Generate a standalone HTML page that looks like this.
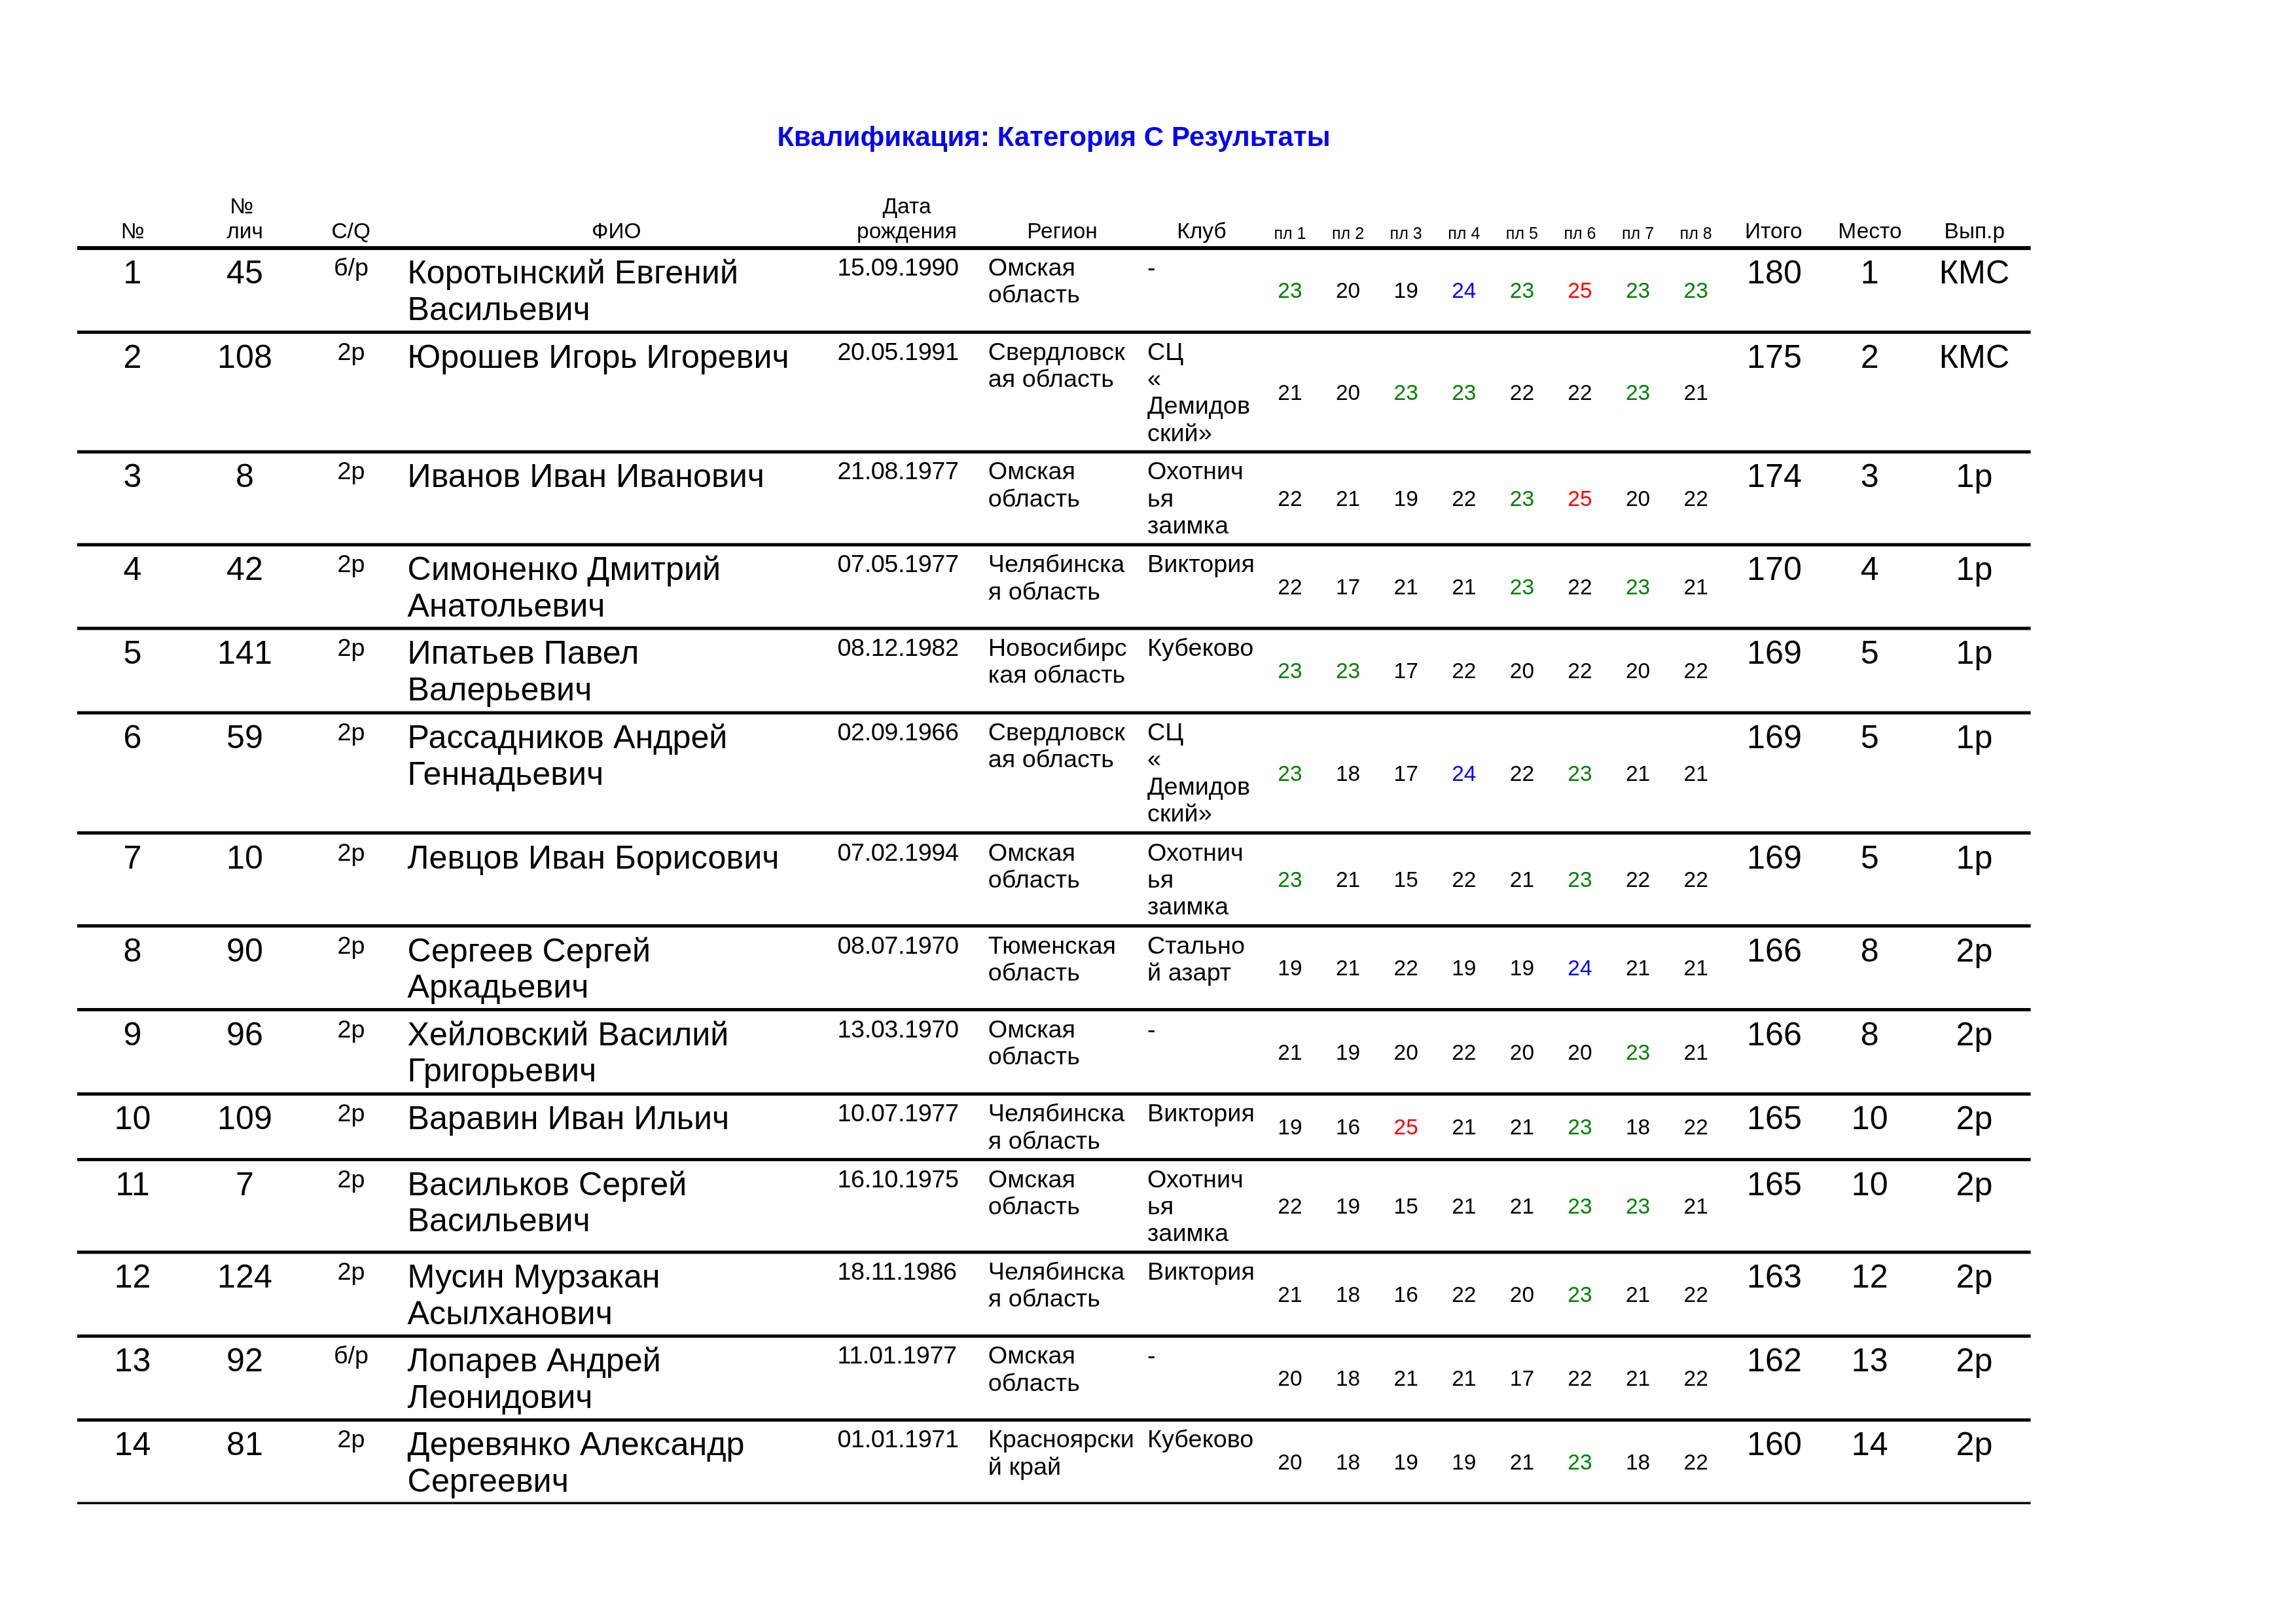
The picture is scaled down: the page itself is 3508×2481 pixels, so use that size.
<!DOCTYPE html>
<html lang="ru"><head><meta charset="utf-8"><title>Квалификация: Категория С Результаты</title>
<style>
html,body{margin:0;padding:0;background:#fff;}
body{width:3508px;height:2481px;overflow:hidden;}
svg{display:block;will-change:transform;}
svg text{font-family:"Liberation Sans",Arial,sans-serif;}
</style></head><body>
<svg width="3508" height="2481" viewBox="0 0 3508 2481">
<rect width="3508" height="2481" fill="#fff"/>
<g fill="#000">
<rect x="118.0" y="376.00" width="2984.6" height="6"/>
<rect x="118.0" y="505.00" width="2984.6" height="5"/>
<rect x="118.0" y="687.80" width="2984.6" height="5"/>
<rect x="118.0" y="829.70" width="2984.6" height="5"/>
<rect x="118.0" y="957.50" width="2984.6" height="5"/>
<rect x="118.0" y="1086.50" width="2984.6" height="5"/>
<rect x="118.0" y="1270.00" width="2984.6" height="5"/>
<rect x="118.0" y="1412.00" width="2984.6" height="5"/>
<rect x="118.0" y="1540.00" width="2984.6" height="5"/>
<rect x="118.0" y="1668.80" width="2984.6" height="5"/>
<rect x="118.0" y="1769.00" width="2984.6" height="5"/>
<rect x="118.0" y="1910.50" width="2984.6" height="5"/>
<rect x="118.0" y="2038.70" width="2984.6" height="5"/>
<rect x="118.0" y="2166.80" width="2984.6" height="5"/>
<rect x="118.0" y="2294.55" width="2984.6" height="3.5"/>
</g>
<text x="1610.0" y="222.9" font-size="42.10" text-anchor="middle" fill="#0000ff" font-weight="bold">Квалификация: Категория С Результаты</text>
<text x="202.6" y="363.7" font-size="33.50" text-anchor="middle">№</text>
<text x="369.2" y="326.0" font-size="33.50" text-anchor="middle">№</text>
<text x="374.0" y="363.7" font-size="33.50" text-anchor="middle">лич</text>
<text x="536.2" y="363.7" font-size="33.50" text-anchor="middle">C/Q</text>
<text x="941.8" y="363.7" font-size="33.50" text-anchor="middle">ФИО</text>
<text x="1385.5" y="326.0" font-size="33.50" text-anchor="middle">Дата</text>
<text x="1385.5" y="363.7" font-size="33.50" text-anchor="middle">рождения</text>
<text x="1623.0" y="363.7" font-size="33.50" text-anchor="middle">Регион</text>
<text x="1836.0" y="363.7" font-size="33.50" text-anchor="middle">Клуб</text>
<text x="1971.0" y="364.8" font-size="25.10" text-anchor="middle">пл 1</text>
<text x="2059.6" y="364.8" font-size="25.10" text-anchor="middle">пл 2</text>
<text x="2148.2" y="364.8" font-size="25.10" text-anchor="middle">пл 3</text>
<text x="2236.8" y="364.8" font-size="25.10" text-anchor="middle">пл 4</text>
<text x="2325.4" y="364.8" font-size="25.10" text-anchor="middle">пл 5</text>
<text x="2414.0" y="364.8" font-size="25.10" text-anchor="middle">пл 6</text>
<text x="2502.6" y="364.8" font-size="25.10" text-anchor="middle">пл 7</text>
<text x="2591.2" y="364.8" font-size="25.10" text-anchor="middle">пл 8</text>
<text x="2709.8" y="363.7" font-size="33.50" text-anchor="middle">Итого</text>
<text x="2857.0" y="363.7" font-size="33.50" text-anchor="middle">Место</text>
<text x="3016.8" y="363.7" font-size="33.50" text-anchor="middle">Вып.р</text>
<text x="202.6" y="433.0" font-size="50.25" text-anchor="middle">1</text>
<text x="374.0" y="433.0" font-size="50.25" text-anchor="middle">45</text>
<text x="536.5" y="421.0" font-size="37.85" text-anchor="middle">б/р</text>
<text x="622.6" y="433.0" font-size="50.25">Коротынский Евгений</text>
<text x="622.6" y="488.5" font-size="50.25">Васильевич</text>
<text x="1279.4" y="421.0" font-size="37.85" letter-spacing="-0.42">15.09.1990</text>
<text x="1509.8" y="421.0" font-size="37.85">Омская</text>
<text x="1509.8" y="462.4" font-size="37.85">область</text>
<text x="1753.0" y="421.0" font-size="37.85">-</text>
<text x="1971.0" y="455.1" font-size="33.50" text-anchor="middle" fill="#008000">23</text>
<text x="2059.6" y="455.1" font-size="33.50" text-anchor="middle">20</text>
<text x="2148.2" y="455.1" font-size="33.50" text-anchor="middle">19</text>
<text x="2236.8" y="455.1" font-size="33.50" text-anchor="middle" fill="#0000ff">24</text>
<text x="2325.4" y="455.1" font-size="33.50" text-anchor="middle" fill="#008000">23</text>
<text x="2414.0" y="455.1" font-size="33.50" text-anchor="middle" fill="#ff0000">25</text>
<text x="2502.6" y="455.1" font-size="33.50" text-anchor="middle" fill="#008000">23</text>
<text x="2591.2" y="455.1" font-size="33.50" text-anchor="middle" fill="#008000">23</text>
<text x="2711.0" y="433.0" font-size="50.25" text-anchor="middle">180</text>
<text x="2856.7" y="433.0" font-size="50.25" text-anchor="middle">1</text>
<text x="3016.5" y="433.0" font-size="50.25" text-anchor="middle">КМС</text>
<text x="202.6" y="561.5" font-size="50.25" text-anchor="middle">2</text>
<text x="374.0" y="561.5" font-size="50.25" text-anchor="middle">108</text>
<text x="536.5" y="549.5" font-size="37.85" text-anchor="middle">2р</text>
<text x="622.6" y="561.5" font-size="50.25">Юрошев Игорь Игоревич</text>
<text x="1279.4" y="549.5" font-size="37.85" letter-spacing="-0.42">20.05.1991</text>
<text x="1509.8" y="549.5" font-size="37.85">Свердловск</text>
<text x="1509.8" y="590.9" font-size="37.85">ая область</text>
<text x="1753.0" y="549.5" font-size="37.85">СЦ</text>
<text x="1753.0" y="590.9" font-size="37.85">«</text>
<text x="1753.0" y="632.3" font-size="37.85">Демидов</text>
<text x="1753.0" y="673.7" font-size="37.85">ский»</text>
<text x="1971.0" y="610.8" font-size="33.50" text-anchor="middle">21</text>
<text x="2059.6" y="610.8" font-size="33.50" text-anchor="middle">20</text>
<text x="2148.2" y="610.8" font-size="33.50" text-anchor="middle" fill="#008000">23</text>
<text x="2236.8" y="610.8" font-size="33.50" text-anchor="middle" fill="#008000">23</text>
<text x="2325.4" y="610.8" font-size="33.50" text-anchor="middle">22</text>
<text x="2414.0" y="610.8" font-size="33.50" text-anchor="middle">22</text>
<text x="2502.6" y="610.8" font-size="33.50" text-anchor="middle" fill="#008000">23</text>
<text x="2591.2" y="610.8" font-size="33.50" text-anchor="middle">21</text>
<text x="2711.0" y="561.5" font-size="50.25" text-anchor="middle">175</text>
<text x="2856.7" y="561.5" font-size="50.25" text-anchor="middle">2</text>
<text x="3016.5" y="561.5" font-size="50.25" text-anchor="middle">КМС</text>
<text x="202.6" y="744.3" font-size="50.25" text-anchor="middle">3</text>
<text x="374.0" y="744.3" font-size="50.25" text-anchor="middle">8</text>
<text x="536.5" y="732.3" font-size="37.85" text-anchor="middle">2р</text>
<text x="622.6" y="744.3" font-size="50.25">Иванов Иван Иванович</text>
<text x="1279.4" y="732.3" font-size="37.85" letter-spacing="-0.42">21.08.1977</text>
<text x="1509.8" y="732.3" font-size="37.85">Омская</text>
<text x="1509.8" y="773.7" font-size="37.85">область</text>
<text x="1753.0" y="732.3" font-size="37.85">Охотнич</text>
<text x="1753.0" y="773.7" font-size="37.85">ья</text>
<text x="1753.0" y="815.1" font-size="37.85">заимка</text>
<text x="1971.0" y="773.1" font-size="33.50" text-anchor="middle">22</text>
<text x="2059.6" y="773.1" font-size="33.50" text-anchor="middle">21</text>
<text x="2148.2" y="773.1" font-size="33.50" text-anchor="middle">19</text>
<text x="2236.8" y="773.1" font-size="33.50" text-anchor="middle">22</text>
<text x="2325.4" y="773.1" font-size="33.50" text-anchor="middle" fill="#008000">23</text>
<text x="2414.0" y="773.1" font-size="33.50" text-anchor="middle" fill="#ff0000">25</text>
<text x="2502.6" y="773.1" font-size="33.50" text-anchor="middle">20</text>
<text x="2591.2" y="773.1" font-size="33.50" text-anchor="middle">22</text>
<text x="2711.0" y="744.3" font-size="50.25" text-anchor="middle">174</text>
<text x="2856.7" y="744.3" font-size="50.25" text-anchor="middle">3</text>
<text x="3016.5" y="744.3" font-size="50.25" text-anchor="middle">1р</text>
<text x="202.6" y="886.2" font-size="50.25" text-anchor="middle">4</text>
<text x="374.0" y="886.2" font-size="50.25" text-anchor="middle">42</text>
<text x="536.5" y="874.2" font-size="37.85" text-anchor="middle">2р</text>
<text x="622.6" y="886.2" font-size="50.25">Симоненко Дмитрий</text>
<text x="622.6" y="941.7" font-size="50.25">Анатольевич</text>
<text x="1279.4" y="874.2" font-size="37.85" letter-spacing="-0.42">07.05.1977</text>
<text x="1509.8" y="874.2" font-size="37.85">Челябинска</text>
<text x="1509.8" y="915.6" font-size="37.85">я область</text>
<text x="1753.0" y="874.2" font-size="37.85">Виктория</text>
<text x="1971.0" y="908.0" font-size="33.50" text-anchor="middle">22</text>
<text x="2059.6" y="908.0" font-size="33.50" text-anchor="middle">17</text>
<text x="2148.2" y="908.0" font-size="33.50" text-anchor="middle">21</text>
<text x="2236.8" y="908.0" font-size="33.50" text-anchor="middle">21</text>
<text x="2325.4" y="908.0" font-size="33.50" text-anchor="middle" fill="#008000">23</text>
<text x="2414.0" y="908.0" font-size="33.50" text-anchor="middle">22</text>
<text x="2502.6" y="908.0" font-size="33.50" text-anchor="middle" fill="#008000">23</text>
<text x="2591.2" y="908.0" font-size="33.50" text-anchor="middle">21</text>
<text x="2711.0" y="886.2" font-size="50.25" text-anchor="middle">170</text>
<text x="2856.7" y="886.2" font-size="50.25" text-anchor="middle">4</text>
<text x="3016.5" y="886.2" font-size="50.25" text-anchor="middle">1р</text>
<text x="202.6" y="1014.0" font-size="50.25" text-anchor="middle">5</text>
<text x="374.0" y="1014.0" font-size="50.25" text-anchor="middle">141</text>
<text x="536.5" y="1002.0" font-size="37.85" text-anchor="middle">2р</text>
<text x="622.6" y="1014.0" font-size="50.25">Ипатьев Павел</text>
<text x="622.6" y="1069.5" font-size="50.25">Валерьевич</text>
<text x="1279.4" y="1002.0" font-size="37.85" letter-spacing="-0.42">08.12.1982</text>
<text x="1509.8" y="1002.0" font-size="37.85">Новосибирс</text>
<text x="1509.8" y="1043.4" font-size="37.85">кая область</text>
<text x="1753.0" y="1002.0" font-size="37.85">Кубеково</text>
<text x="1971.0" y="1036.4" font-size="33.50" text-anchor="middle" fill="#008000">23</text>
<text x="2059.6" y="1036.4" font-size="33.50" text-anchor="middle" fill="#008000">23</text>
<text x="2148.2" y="1036.4" font-size="33.50" text-anchor="middle">17</text>
<text x="2236.8" y="1036.4" font-size="33.50" text-anchor="middle">22</text>
<text x="2325.4" y="1036.4" font-size="33.50" text-anchor="middle">20</text>
<text x="2414.0" y="1036.4" font-size="33.50" text-anchor="middle">22</text>
<text x="2502.6" y="1036.4" font-size="33.50" text-anchor="middle">20</text>
<text x="2591.2" y="1036.4" font-size="33.50" text-anchor="middle">22</text>
<text x="2711.0" y="1014.0" font-size="50.25" text-anchor="middle">169</text>
<text x="2856.7" y="1014.0" font-size="50.25" text-anchor="middle">5</text>
<text x="3016.5" y="1014.0" font-size="50.25" text-anchor="middle">1р</text>
<text x="202.6" y="1143.0" font-size="50.25" text-anchor="middle">6</text>
<text x="374.0" y="1143.0" font-size="50.25" text-anchor="middle">59</text>
<text x="536.5" y="1131.0" font-size="37.85" text-anchor="middle">2р</text>
<text x="622.6" y="1143.0" font-size="50.25">Рассадников Андрей</text>
<text x="622.6" y="1198.5" font-size="50.25">Геннадьевич</text>
<text x="1279.4" y="1131.0" font-size="37.85" letter-spacing="-0.42">02.09.1966</text>
<text x="1509.8" y="1131.0" font-size="37.85">Свердловск</text>
<text x="1509.8" y="1172.4" font-size="37.85">ая область</text>
<text x="1753.0" y="1131.0" font-size="37.85">СЦ</text>
<text x="1753.0" y="1172.4" font-size="37.85">«</text>
<text x="1753.0" y="1213.8" font-size="37.85">Демидов</text>
<text x="1753.0" y="1255.2" font-size="37.85">ский»</text>
<text x="1971.0" y="1192.7" font-size="33.50" text-anchor="middle" fill="#008000">23</text>
<text x="2059.6" y="1192.7" font-size="33.50" text-anchor="middle">18</text>
<text x="2148.2" y="1192.7" font-size="33.50" text-anchor="middle">17</text>
<text x="2236.8" y="1192.7" font-size="33.50" text-anchor="middle" fill="#0000ff">24</text>
<text x="2325.4" y="1192.7" font-size="33.50" text-anchor="middle">22</text>
<text x="2414.0" y="1192.7" font-size="33.50" text-anchor="middle" fill="#008000">23</text>
<text x="2502.6" y="1192.7" font-size="33.50" text-anchor="middle">21</text>
<text x="2591.2" y="1192.7" font-size="33.50" text-anchor="middle">21</text>
<text x="2711.0" y="1143.0" font-size="50.25" text-anchor="middle">169</text>
<text x="2856.7" y="1143.0" font-size="50.25" text-anchor="middle">5</text>
<text x="3016.5" y="1143.0" font-size="50.25" text-anchor="middle">1р</text>
<text x="202.6" y="1326.5" font-size="50.25" text-anchor="middle">7</text>
<text x="374.0" y="1326.5" font-size="50.25" text-anchor="middle">10</text>
<text x="536.5" y="1314.5" font-size="37.85" text-anchor="middle">2р</text>
<text x="622.6" y="1326.5" font-size="50.25">Левцов Иван Борисович</text>
<text x="1279.4" y="1314.5" font-size="37.85" letter-spacing="-0.42">07.02.1994</text>
<text x="1509.8" y="1314.5" font-size="37.85">Омская</text>
<text x="1509.8" y="1355.9" font-size="37.85">область</text>
<text x="1753.0" y="1314.5" font-size="37.85">Охотнич</text>
<text x="1753.0" y="1355.9" font-size="37.85">ья</text>
<text x="1753.0" y="1397.3" font-size="37.85">заимка</text>
<text x="1971.0" y="1355.4" font-size="33.50" text-anchor="middle" fill="#008000">23</text>
<text x="2059.6" y="1355.4" font-size="33.50" text-anchor="middle">21</text>
<text x="2148.2" y="1355.4" font-size="33.50" text-anchor="middle">15</text>
<text x="2236.8" y="1355.4" font-size="33.50" text-anchor="middle">22</text>
<text x="2325.4" y="1355.4" font-size="33.50" text-anchor="middle">21</text>
<text x="2414.0" y="1355.4" font-size="33.50" text-anchor="middle" fill="#008000">23</text>
<text x="2502.6" y="1355.4" font-size="33.50" text-anchor="middle">22</text>
<text x="2591.2" y="1355.4" font-size="33.50" text-anchor="middle">22</text>
<text x="2711.0" y="1326.5" font-size="50.25" text-anchor="middle">169</text>
<text x="2856.7" y="1326.5" font-size="50.25" text-anchor="middle">5</text>
<text x="3016.5" y="1326.5" font-size="50.25" text-anchor="middle">1р</text>
<text x="202.6" y="1468.5" font-size="50.25" text-anchor="middle">8</text>
<text x="374.0" y="1468.5" font-size="50.25" text-anchor="middle">90</text>
<text x="536.5" y="1456.5" font-size="37.85" text-anchor="middle">2р</text>
<text x="622.6" y="1468.5" font-size="50.25">Сергеев Сергей</text>
<text x="622.6" y="1524.0" font-size="50.25">Аркадьевич</text>
<text x="1279.4" y="1456.5" font-size="37.85" letter-spacing="-0.42">08.07.1970</text>
<text x="1509.8" y="1456.5" font-size="37.85">Тюменская</text>
<text x="1509.8" y="1497.9" font-size="37.85">область</text>
<text x="1753.0" y="1456.5" font-size="37.85">Стально</text>
<text x="1753.0" y="1497.9" font-size="37.85">й азарт</text>
<text x="1971.0" y="1490.4" font-size="33.50" text-anchor="middle">19</text>
<text x="2059.6" y="1490.4" font-size="33.50" text-anchor="middle">21</text>
<text x="2148.2" y="1490.4" font-size="33.50" text-anchor="middle">22</text>
<text x="2236.8" y="1490.4" font-size="33.50" text-anchor="middle">19</text>
<text x="2325.4" y="1490.4" font-size="33.50" text-anchor="middle">19</text>
<text x="2414.0" y="1490.4" font-size="33.50" text-anchor="middle" fill="#0000ff">24</text>
<text x="2502.6" y="1490.4" font-size="33.50" text-anchor="middle">21</text>
<text x="2591.2" y="1490.4" font-size="33.50" text-anchor="middle">21</text>
<text x="2711.0" y="1468.5" font-size="50.25" text-anchor="middle">166</text>
<text x="2856.7" y="1468.5" font-size="50.25" text-anchor="middle">8</text>
<text x="3016.5" y="1468.5" font-size="50.25" text-anchor="middle">2р</text>
<text x="202.6" y="1596.5" font-size="50.25" text-anchor="middle">9</text>
<text x="374.0" y="1596.5" font-size="50.25" text-anchor="middle">96</text>
<text x="536.5" y="1584.5" font-size="37.85" text-anchor="middle">2р</text>
<text x="622.6" y="1596.5" font-size="50.25">Хейловский Василий</text>
<text x="622.6" y="1652.0" font-size="50.25">Григорьевич</text>
<text x="1279.4" y="1584.5" font-size="37.85" letter-spacing="-0.42">13.03.1970</text>
<text x="1509.8" y="1584.5" font-size="37.85">Омская</text>
<text x="1509.8" y="1625.9" font-size="37.85">область</text>
<text x="1753.0" y="1584.5" font-size="37.85">-</text>
<text x="1971.0" y="1618.8" font-size="33.50" text-anchor="middle">21</text>
<text x="2059.6" y="1618.8" font-size="33.50" text-anchor="middle">19</text>
<text x="2148.2" y="1618.8" font-size="33.50" text-anchor="middle">20</text>
<text x="2236.8" y="1618.8" font-size="33.50" text-anchor="middle">22</text>
<text x="2325.4" y="1618.8" font-size="33.50" text-anchor="middle">20</text>
<text x="2414.0" y="1618.8" font-size="33.50" text-anchor="middle">20</text>
<text x="2502.6" y="1618.8" font-size="33.50" text-anchor="middle" fill="#008000">23</text>
<text x="2591.2" y="1618.8" font-size="33.50" text-anchor="middle">21</text>
<text x="2711.0" y="1596.5" font-size="50.25" text-anchor="middle">166</text>
<text x="2856.7" y="1596.5" font-size="50.25" text-anchor="middle">8</text>
<text x="3016.5" y="1596.5" font-size="50.25" text-anchor="middle">2р</text>
<text x="202.6" y="1725.3" font-size="50.25" text-anchor="middle">10</text>
<text x="374.0" y="1725.3" font-size="50.25" text-anchor="middle">109</text>
<text x="536.5" y="1713.3" font-size="37.85" text-anchor="middle">2р</text>
<text x="622.6" y="1725.3" font-size="50.25">Варавин Иван Ильич</text>
<text x="1279.4" y="1713.3" font-size="37.85" letter-spacing="-0.42">10.07.1977</text>
<text x="1509.8" y="1713.3" font-size="37.85">Челябинска</text>
<text x="1509.8" y="1754.7" font-size="37.85">я область</text>
<text x="1753.0" y="1713.3" font-size="37.85">Виктория</text>
<text x="1971.0" y="1733.3" font-size="33.50" text-anchor="middle">19</text>
<text x="2059.6" y="1733.3" font-size="33.50" text-anchor="middle">16</text>
<text x="2148.2" y="1733.3" font-size="33.50" text-anchor="middle" fill="#ff0000">25</text>
<text x="2236.8" y="1733.3" font-size="33.50" text-anchor="middle">21</text>
<text x="2325.4" y="1733.3" font-size="33.50" text-anchor="middle">21</text>
<text x="2414.0" y="1733.3" font-size="33.50" text-anchor="middle" fill="#008000">23</text>
<text x="2502.6" y="1733.3" font-size="33.50" text-anchor="middle">18</text>
<text x="2591.2" y="1733.3" font-size="33.50" text-anchor="middle">22</text>
<text x="2711.0" y="1725.3" font-size="50.25" text-anchor="middle">165</text>
<text x="2856.7" y="1725.3" font-size="50.25" text-anchor="middle">10</text>
<text x="3016.5" y="1725.3" font-size="50.25" text-anchor="middle">2р</text>
<text x="202.6" y="1825.5" font-size="50.25" text-anchor="middle">11</text>
<text x="374.0" y="1825.5" font-size="50.25" text-anchor="middle">7</text>
<text x="536.5" y="1813.5" font-size="37.85" text-anchor="middle">2р</text>
<text x="622.6" y="1825.5" font-size="50.25">Васильков Сергей</text>
<text x="622.6" y="1881.0" font-size="50.25">Васильевич</text>
<text x="1279.4" y="1813.5" font-size="37.85" letter-spacing="-0.42">16.10.1975</text>
<text x="1509.8" y="1813.5" font-size="37.85">Омская</text>
<text x="1509.8" y="1854.9" font-size="37.85">область</text>
<text x="1753.0" y="1813.5" font-size="37.85">Охотнич</text>
<text x="1753.0" y="1854.9" font-size="37.85">ья</text>
<text x="1753.0" y="1896.3" font-size="37.85">заимка</text>
<text x="1971.0" y="1854.2" font-size="33.50" text-anchor="middle">22</text>
<text x="2059.6" y="1854.2" font-size="33.50" text-anchor="middle">19</text>
<text x="2148.2" y="1854.2" font-size="33.50" text-anchor="middle">15</text>
<text x="2236.8" y="1854.2" font-size="33.50" text-anchor="middle">21</text>
<text x="2325.4" y="1854.2" font-size="33.50" text-anchor="middle">21</text>
<text x="2414.0" y="1854.2" font-size="33.50" text-anchor="middle" fill="#008000">23</text>
<text x="2502.6" y="1854.2" font-size="33.50" text-anchor="middle" fill="#008000">23</text>
<text x="2591.2" y="1854.2" font-size="33.50" text-anchor="middle">21</text>
<text x="2711.0" y="1825.5" font-size="50.25" text-anchor="middle">165</text>
<text x="2856.7" y="1825.5" font-size="50.25" text-anchor="middle">10</text>
<text x="3016.5" y="1825.5" font-size="50.25" text-anchor="middle">2р</text>
<text x="202.6" y="1967.0" font-size="50.25" text-anchor="middle">12</text>
<text x="374.0" y="1967.0" font-size="50.25" text-anchor="middle">124</text>
<text x="536.5" y="1955.0" font-size="37.85" text-anchor="middle">2р</text>
<text x="622.6" y="1967.0" font-size="50.25">Мусин Мурзакан</text>
<text x="622.6" y="2022.5" font-size="50.25">Асылханович</text>
<text x="1279.4" y="1955.0" font-size="37.85" letter-spacing="-0.42">18.11.1986</text>
<text x="1509.8" y="1955.0" font-size="37.85">Челябинска</text>
<text x="1509.8" y="1996.4" font-size="37.85">я область</text>
<text x="1753.0" y="1955.0" font-size="37.85">Виктория</text>
<text x="1971.0" y="1989.0" font-size="33.50" text-anchor="middle">21</text>
<text x="2059.6" y="1989.0" font-size="33.50" text-anchor="middle">18</text>
<text x="2148.2" y="1989.0" font-size="33.50" text-anchor="middle">16</text>
<text x="2236.8" y="1989.0" font-size="33.50" text-anchor="middle">22</text>
<text x="2325.4" y="1989.0" font-size="33.50" text-anchor="middle">20</text>
<text x="2414.0" y="1989.0" font-size="33.50" text-anchor="middle" fill="#008000">23</text>
<text x="2502.6" y="1989.0" font-size="33.50" text-anchor="middle">21</text>
<text x="2591.2" y="1989.0" font-size="33.50" text-anchor="middle">22</text>
<text x="2711.0" y="1967.0" font-size="50.25" text-anchor="middle">163</text>
<text x="2856.7" y="1967.0" font-size="50.25" text-anchor="middle">12</text>
<text x="3016.5" y="1967.0" font-size="50.25" text-anchor="middle">2р</text>
<text x="202.6" y="2095.2" font-size="50.25" text-anchor="middle">13</text>
<text x="374.0" y="2095.2" font-size="50.25" text-anchor="middle">92</text>
<text x="536.5" y="2083.2" font-size="37.85" text-anchor="middle">б/р</text>
<text x="622.6" y="2095.2" font-size="50.25">Лопарев Андрей</text>
<text x="622.6" y="2150.7" font-size="50.25">Леонидович</text>
<text x="1279.4" y="2083.2" font-size="37.85" letter-spacing="-0.42">11.01.1977</text>
<text x="1509.8" y="2083.2" font-size="37.85">Омская</text>
<text x="1509.8" y="2124.6" font-size="37.85">область</text>
<text x="1753.0" y="2083.2" font-size="37.85">-</text>
<text x="1971.0" y="2117.2" font-size="33.50" text-anchor="middle">20</text>
<text x="2059.6" y="2117.2" font-size="33.50" text-anchor="middle">18</text>
<text x="2148.2" y="2117.2" font-size="33.50" text-anchor="middle">21</text>
<text x="2236.8" y="2117.2" font-size="33.50" text-anchor="middle">21</text>
<text x="2325.4" y="2117.2" font-size="33.50" text-anchor="middle">17</text>
<text x="2414.0" y="2117.2" font-size="33.50" text-anchor="middle">22</text>
<text x="2502.6" y="2117.2" font-size="33.50" text-anchor="middle">21</text>
<text x="2591.2" y="2117.2" font-size="33.50" text-anchor="middle">22</text>
<text x="2711.0" y="2095.2" font-size="50.25" text-anchor="middle">162</text>
<text x="2856.7" y="2095.2" font-size="50.25" text-anchor="middle">13</text>
<text x="3016.5" y="2095.2" font-size="50.25" text-anchor="middle">2р</text>
<text x="202.6" y="2223.3" font-size="50.25" text-anchor="middle">14</text>
<text x="374.0" y="2223.3" font-size="50.25" text-anchor="middle">81</text>
<text x="536.5" y="2211.3" font-size="37.85" text-anchor="middle">2р</text>
<text x="622.6" y="2223.3" font-size="50.25">Деревянко Александр</text>
<text x="622.6" y="2278.8" font-size="50.25">Сергеевич</text>
<text x="1279.4" y="2211.3" font-size="37.85" letter-spacing="-0.42">01.01.1971</text>
<text x="1509.8" y="2211.3" font-size="37.85">Красноярски</text>
<text x="1509.8" y="2252.7" font-size="37.85">й край</text>
<text x="1753.0" y="2211.3" font-size="37.85">Кубеково</text>
<text x="1971.0" y="2244.7" font-size="33.50" text-anchor="middle">20</text>
<text x="2059.6" y="2244.7" font-size="33.50" text-anchor="middle">18</text>
<text x="2148.2" y="2244.7" font-size="33.50" text-anchor="middle">19</text>
<text x="2236.8" y="2244.7" font-size="33.50" text-anchor="middle">19</text>
<text x="2325.4" y="2244.7" font-size="33.50" text-anchor="middle">21</text>
<text x="2414.0" y="2244.7" font-size="33.50" text-anchor="middle" fill="#008000">23</text>
<text x="2502.6" y="2244.7" font-size="33.50" text-anchor="middle">18</text>
<text x="2591.2" y="2244.7" font-size="33.50" text-anchor="middle">22</text>
<text x="2711.0" y="2223.3" font-size="50.25" text-anchor="middle">160</text>
<text x="2856.7" y="2223.3" font-size="50.25" text-anchor="middle">14</text>
<text x="3016.5" y="2223.3" font-size="50.25" text-anchor="middle">2р</text>
</svg>
</body></html>
